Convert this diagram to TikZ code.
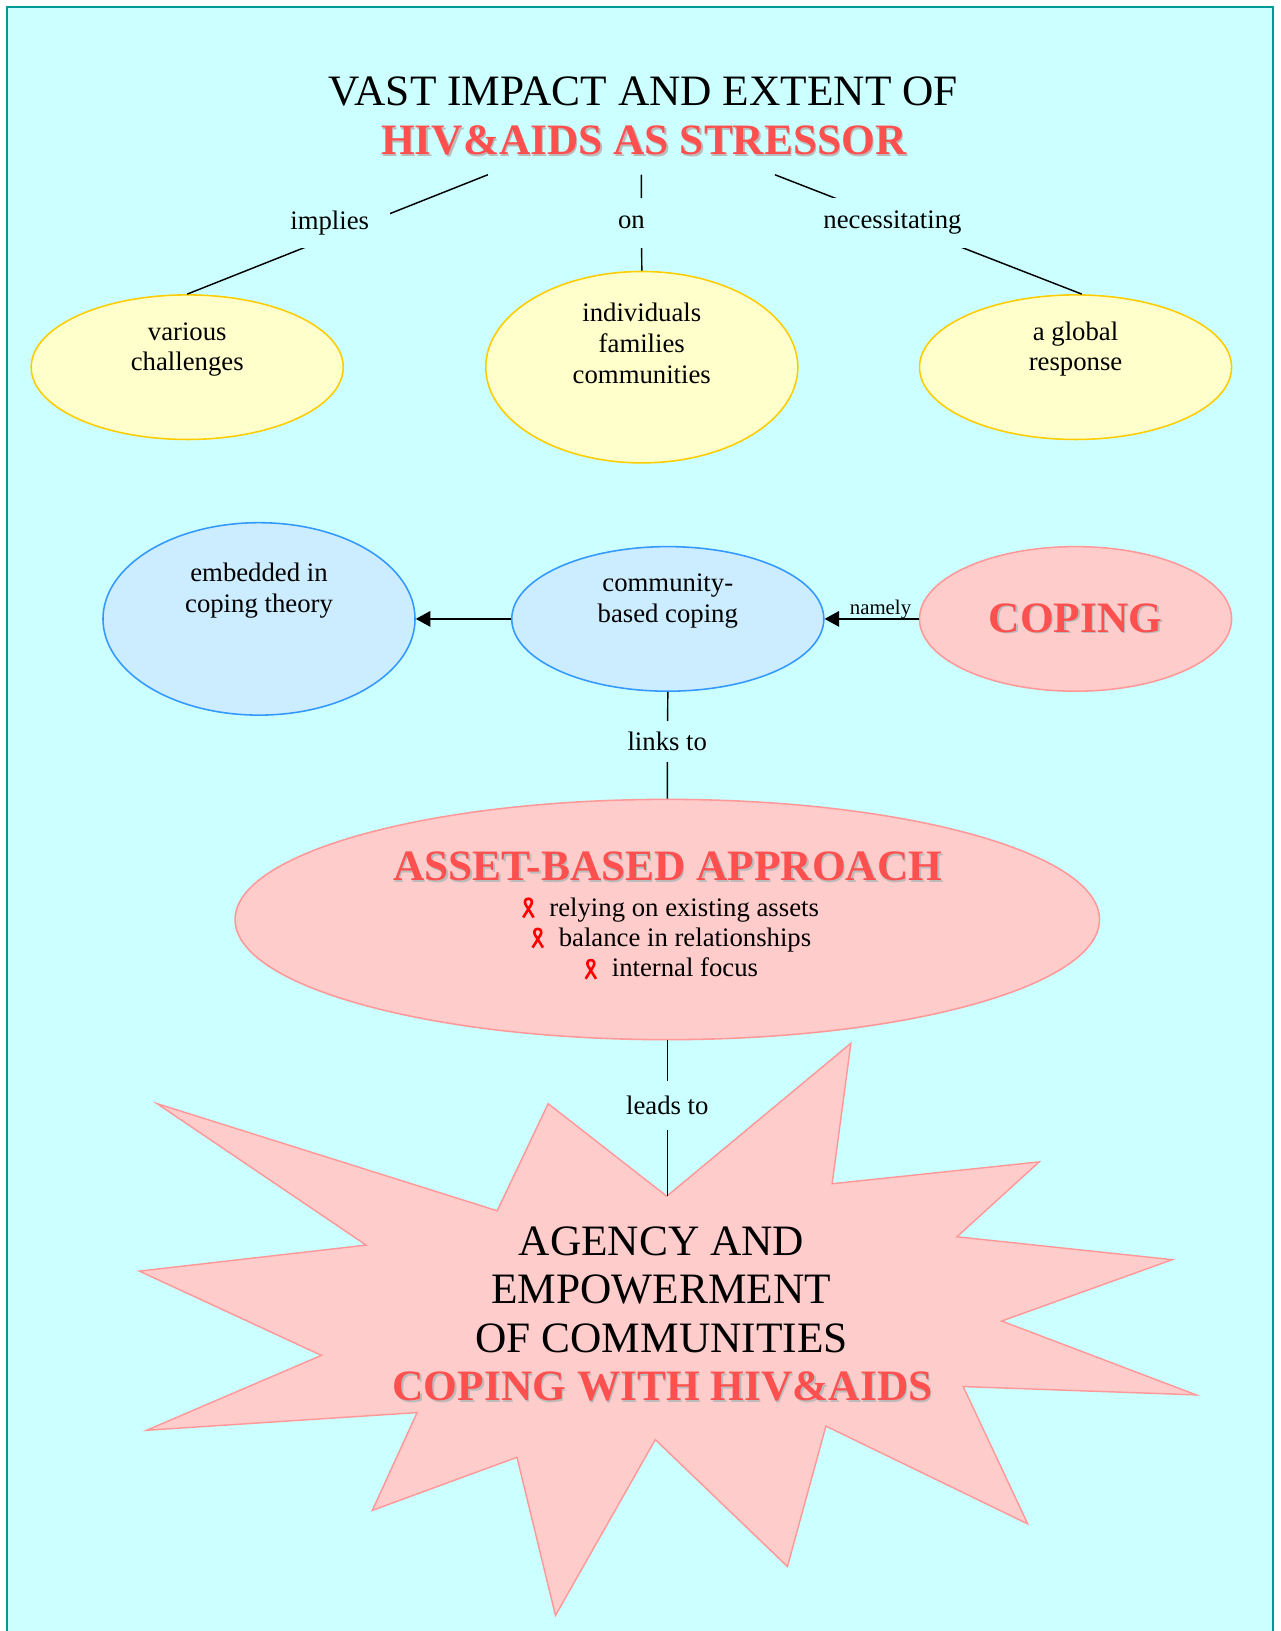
\documentclass[tikz,border=0pt]{standalone}
\usepackage{fontspec}
\setmainfont{Liberation Serif}
\usetikzlibrary{arrows.meta,shapes.geometric}
\definecolor{bgc}{HTML}{CCFFFF}
\definecolor{framec}{HTML}{009999}
\definecolor{yelf}{HTML}{FFFFCC}
\definecolor{yeld}{HTML}{FFCC00}
\definecolor{bluf}{HTML}{CCECFF}
\definecolor{blud}{HTML}{3399FF}
\definecolor{pinf}{HTML}{FFCCCC}
\definecolor{pind}{HTML}{FF9999}
\definecolor{redt}{HTML}{FF5050}
\definecolor{shad}{HTML}{BBBBBB}
\newcommand\shtext[1]{\leavevmode\rlap{\kern1.4pt\raisebox{-1.4pt}{\textcolor{shad}{#1}}}\textcolor{redt}{#1}}
\newcommand\upbox[2]{\raisebox{#1}[0pt][0pt]{\begin{tabular}{@{}c@{}}#2\end{tabular}}}
\begin{document}
\begin{tikzpicture}[x=1pt,y=-1pt,
  ell/.style={ellipse,inner sep=0pt,line width=1.5pt,font=\fontsize{25.7}{29.6}\selectfont},
  yel/.style={ell,draw=yeld,fill=yelf},
  blu/.style={ell,draw=blud,fill=bluf},
  pin/.style={ell,draw=pind,fill=pinf},
  sz/.style n args={2}{minimum width=#1pt,minimum height=#2pt},
  big/.style={font=\fontsize{41.7}{48}\selectfont,align=center,inner sep=0pt},
  bigb/.style={font=\fontsize{41.7}{48}\selectfont\bfseries,inner sep=0pt},
  conn/.style={line width=1.4pt,black},
  arr/.style={conn,-{Triangle[length=14pt,width=15pt]}},
  lbl/.style={fill=bgc,inner xsep=3pt,inner ysep=0pt,minimum height=48pt,font=\fontsize{25.7}{29.6}\selectfont},
  bul/.style={font=\fontsize{25.7}{29.6}\selectfont,inner sep=0pt},
  ribbon/.style={red,line width=2.5pt,line join=round}
]
\useasboundingbox (0,0) rectangle (1231,1568);
\fill[bgc] (7,7) rectangle (1224,1568);
\draw[framec,line width=1.6pt] (7,1568) -- (7,7) -- (1224,7) -- (1224,1568);

\node[big] (title) at (618.5,88) {VAST IMPACT AND EXTENT OF};
\node[bigb] (stressor) at (619,136) {\shtext{HIV\&AIDS AS STRESSOR}};
\coordinate (tl) at (469,168);
\coordinate (tm) at (616.5,168);
\coordinate (tr) at (745,168);

\node[yel,sz={300}{139}] (various) at (180,353) {\upbox{11pt}{various\\challenges}};
\node[yel,sz={300}{184}] (indiv) at (617,353) {\upbox{14pt}{individuals\\families\\communities}};
\node[yel,sz={300}{139}] (global) at (1034,353) {\upbox{11pt}{a global\\response}};
\node[blu,sz={300}{185}] (embedded) at (249,595) {\upbox{21pt}{embedded in\\coping theory}};
\node[blu,sz={300}{139}] (community) at (642,595) {\upbox{11pt}{community-\\based coping}};
\node[pin,sz={300}{139}] (coping) at (1034,595) {\textbf{\fontsize{41.7}{48}\selectfont\shtext{COPING}}};
\node[pin,sz={831}{231}] (asset) at (641.5,884) {};

\draw[pind,fill=pinf,line width=1.4pt,line join=miter]
  (641,1150) -- (818,1003) -- (800,1138) -- (999,1117) -- (920,1189) -- (1127,1211) -- (963,1270)
  -- (1150,1341) -- (926,1333) -- (988,1465) -- (794,1371) -- (757,1506) -- (630,1384) -- (534,1553)
  -- (497,1401) -- (358,1452) -- (401,1358) -- (141,1375) -- (309,1303) -- (134,1222) -- (352,1197)
  -- (151,1061) -- (478,1164) -- (527,1061) -- cycle;
\coordinate (startop) at (641.5,1150);

\draw[conn] (tl) -- (various.north);
\draw[conn] (tm) -- (indiv.north);
\draw[conn] (tr) -- ([xshift=6pt]global.north);
\draw[conn] (community.south) -- (asset.north);
\draw[conn] (asset.south) -- (startop);
\draw[arr] (coping.west) -- (community.east);
\draw[arr] (community.west) -- (embedded.east);

\node[lbl,text width=110pt,align=center] (limp) at (317,214) {implies};
\node[lbl,text width=60pt,align=center] (lon) at (607,214) {on};
\node[lbl,text width=170pt,align=center] (lnec) at (858,214) {necessitating};
\node[lbl,minimum height=40pt] (llinks) at (641.5,713) {links to};
\node[lbl,minimum height=47pt] (lleads) at (641.5,1063) {leads to};
\node[font=\fontsize{20}{24}\selectfont,inner sep=0pt,anchor=base] (lnamely) at (846.5,591) {namely};

\node[bigb] (assettitle) at (642,834) {\shtext{ASSET-BASED APPROACH}};
\node[bul,anchor=base west] (b1) at (528,881) {relying on existing assets};
\node[bul,anchor=base west] (b2) at (537,910) {balance in relationships};
\node[bul,anchor=base west] (b3) at (588,939) {internal focus};
\foreach \nm/\px/\py in {r1/508/873,r2/517/902,r3/568/932}{
  \draw[ribbon,shift={(\px,\py)}] (-5,9) -- (2.6,-3.2) .. controls (4.2,-6) and (3.2,-9) .. (0,-9)
    .. controls (-3.2,-9) and (-4.2,-6) .. (-2.6,-3.2) -- (5,9);
}

\node[big] (agency) at (636,1193) {AGENCY AND};
\node[big] (empower) at (635.5,1240) {EMPOWERMENT};
\node[big] (ofcomm) at (636,1287) {OF COMMUNITIES};
\node[bigb] (cophiv) at (637,1334) {\shtext{COPING WITH HIV\&AIDS}};
\end{tikzpicture}
\end{document}
